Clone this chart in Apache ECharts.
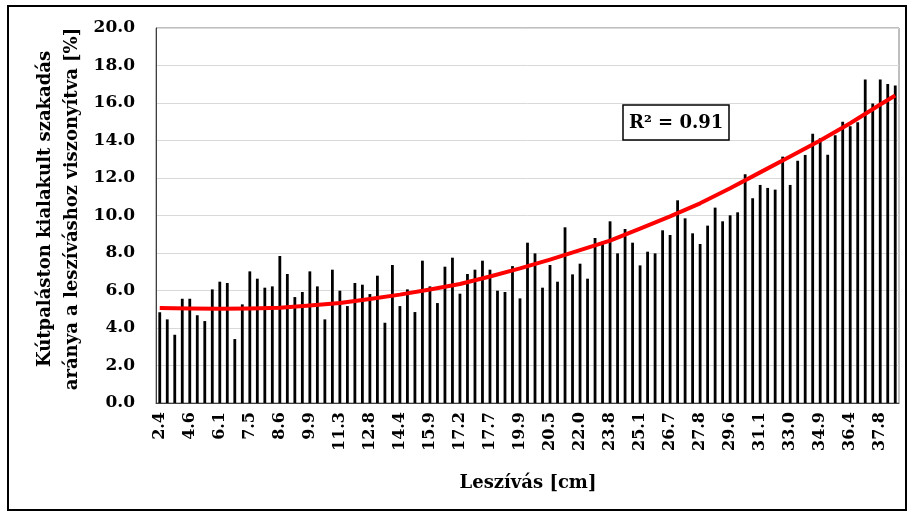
<!DOCTYPE html>
<html>
<head>
<meta charset="utf-8">
<script src="https://cdn.jsdelivr.net/npm/echarts@6/dist/echarts.min.js"></script>
<style>html,body{margin:0;padding:0;background:#fff}#c{width:909px;height:513px}</style>
</head>
<body>
<div id="c"></div>
<script>
// Tick labels shown on the x axis (every 4th category)
var tickLabels = ['2.4','4.6','6.1','7.5','8.6','9.9','11.3','12.8','14.4','15.9','17.2','17.7','19.9',
  '20.5','22.0','23.8','25.1','26.7','27.8','29.6','31.1','33.0','34.9','36.4','37.8'];
// Bar values [%], one per category (99 categories)
var values = [
  4.84,4.46,3.64,5.56,5.56,4.68,4.37,6.06,6.47,6.40,
  3.41,5.26,7.02,6.63,6.15,6.22,7.84,6.88,5.65,5.92,
  7.02,6.22,4.46,7.11,5.99,5.17,6.40,6.31,5.81,6.79,
  4.28,7.36,5.17,6.06,4.85,7.59,6.22,5.33,7.27,7.75,
  5.83,6.88,7.11,7.59,7.11,5.99,5.92,7.30,5.58,8.55,
  7.98,6.15,7.36,6.47,9.37,6.86,7.43,6.63,8.80,8.60,
  9.69,7.98,9.28,8.55,7.34,8.07,7.98,9.21,8.96,10.81,
  9.85,9.05,8.48,9.46,10.42,9.69,10.01,10.17,12.20,10.92,
  11.63,11.47,11.38,13.14,11.63,12.92,13.23,14.36,14.12,13.24,
  14.28,15.00,14.76,14.97,17.26,15.98,17.26,17.01,16.94
];
// Polynomial trendline at category indices
var trendIdx = [0,4,8,12,16,20,24,28,32,36,40,44,48,52,56,60,64,68,72,76,80,84,88,92,96,98];
var trendVal = [5.07,5.04,5.03,5.04,5.08,5.20,5.33,5.55,5.78,6.05,6.35,6.75,7.18,7.65,8.15,8.66,
  9.30,9.95,10.65,11.45,12.30,13.15,14.00,14.92,15.92,16.40];
var rSquaredText = 'R² = 0.91';
var xTitle = 'Leszívás [cm]';
var yTitle1 = 'Kútpaláston kialakult szakadás';
var yTitle2 = 'aránya a leszíváshoz viszonyítva [%]';

// categories: labelled every 4th
var categories = values.map(function(v, i){ return i % 4 === 0 ? tickLabels[i/4] : ''; });
var trend = values.map(function(){ return null; });
trendIdx.forEach(function(ix, k){ trend[ix] = trendVal[k]; });

var FONT = 'DejaVu Serif';
var chart = echarts.init(document.getElementById('c'), null, {renderer: 'canvas'});
chart.setOption({
  backgroundColor: '#ffffff',
  animation: false,
  grid: {left: 156, right: 10, top: 28, bottom: 110, show: true, borderColor: '#7f7f7f', borderWidth: 1},
  title: {
    text: rSquaredText, left: 623, top: 105, padding: [7, 6, 6, 6],
    backgroundColor: '#fff', borderColor: '#000', borderWidth: 1.5,
    textStyle: {fontFamily: FONT, fontWeight: 'bold', fontSize: 18, color: '#000', lineHeight: 22}
  },
  xAxis: {
    type: 'category', data: categories, boundaryGap: true,
    axisLine: {lineStyle: {color: '#404040', width: 1}},
    axisTick: {show: false},
    axisLabel: {interval: 3, rotate: 90, margin: 9, fontFamily: FONT, fontWeight: 'bold', fontSize: 16, color: '#000'}
  },
  yAxis: {
    type: 'value', min: 0, max: 20, interval: 2,
    axisLine: {show: true, lineStyle: {color: '#404040', width: 1}},
    axisTick: {show: false},
    splitLine: {lineStyle: {color: '#d9d9d9', width: 1}},
    axisLabel: {margin: 21, fontFamily: FONT, fontWeight: 'bold', fontSize: 17, color: '#000',
      formatter: function(v){ return v.toFixed(1); }}
  },
  series: [
    {type: 'bar', data: values, barWidth: 2.8, itemStyle: {color: '#000'}},
    {type: 'line', data: trend, connectNulls: true, symbol: 'none', smooth: false, z: 5,
      lineStyle: {color: '#ff0000', width: 4, join: 'round'}}
  ],
  graphic: [
    {type: 'rect', shape: {x: 8, y: 6, width: 898, height: 504}, style: {fill: 'none', stroke: '#000', lineWidth: 2}, silent: true},
    {type: 'text', x: 528, y: 483, style: {text: xTitle, font: 'bold 18px "DejaVu Serif"', fill: '#000', align: 'center', verticalAlign: 'middle'}},
    {type: 'text', x: 45, y: 209, rotation: Math.PI/2, style: {text: yTitle1, font: 'bold 18px "DejaVu Serif"', fill: '#000', align: 'center', verticalAlign: 'middle'}},
    {type: 'text', x: 72, y: 209, rotation: Math.PI/2, style: {text: yTitle2, font: 'bold 18px "DejaVu Serif"', fill: '#000', align: 'center', verticalAlign: 'middle'}}
  ]
});
</script>
</body>
</html>
